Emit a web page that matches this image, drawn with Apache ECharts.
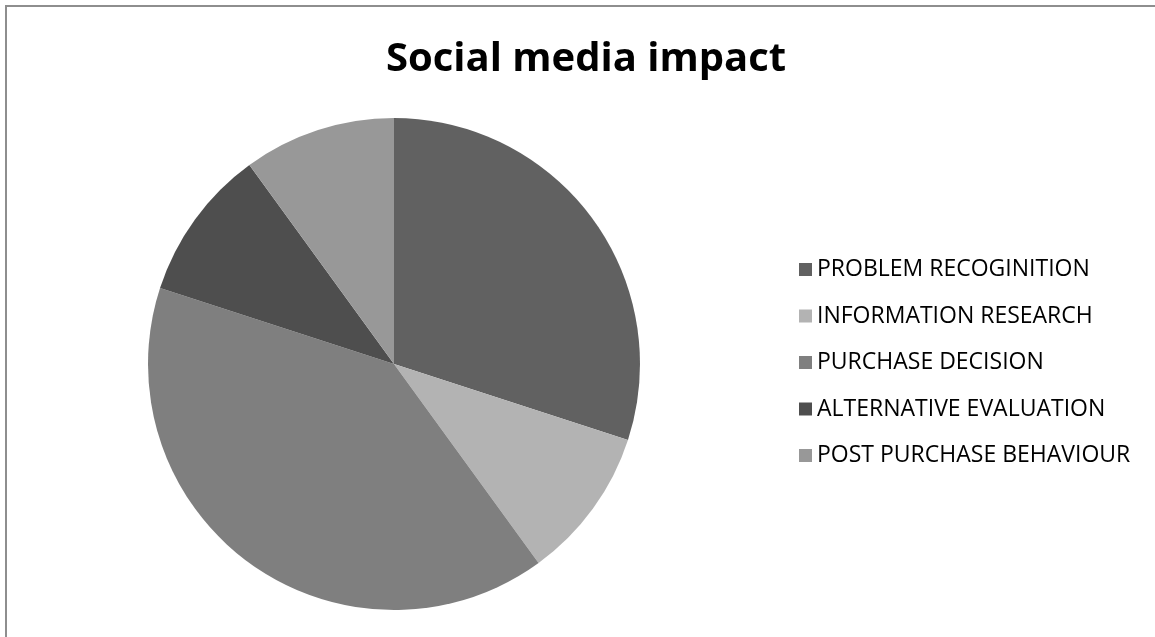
<!DOCTYPE html>
<html>
<head>
<meta charset="utf-8">
<script src="https://cdn.jsdelivr.net/npm/echarts@6/dist/echarts.min.js"></script>
<style>
  html, body { margin: 0; padding: 0; background: #fff; overflow: hidden; }
  #frame { position: absolute; left: 5px; top: 5px; width: 1170px; height: 660px; border: 2px solid #8e8e8e; box-sizing: border-box; }
  #chart { position: absolute; left: 0; top: 0; width: 1155px; height: 637px; }
</style>
</head>
<body>
<div id="frame"></div>
<div id="chart"></div>
<script>
// stages of the buying process and their share (%)
var stages = ['PROBLEM RECOGINITION', 'INFORMATION RESEARCH', 'PURCHASE DECISION', 'ALTERNATIVE EVALUATION', 'POST PURCHASE BEHAVIOUR']
var shares = [30, 10, 40, 10, 10]
var greys = ['#616161', '#b3b3b3', '#7f7f7f', '#4e4e4e', '#989898']

var myChart = echarts.init(document.getElementById('chart'))

var pieData = []
for (var i = 0; i < stages.length; i++) {
    pieData.push({ name: stages[i], value: shares[i] })
}

var option = {
    animation: false,
    color: greys,
    title: {
        text: 'Social media impact',
        left: 581,
        textAlign: 'center',
        top: 35,
        textStyle: {
            fontFamily: 'Open Sans',
            fontWeight: 'bold',
            fontSize: 40,
            color: '#000'
        }
    },
    legend: {
        orient: 'vertical',
        left: 794,
        top: 253,
        icon: 'rect',
        itemWidth: 13,
        itemHeight: 13,
        itemGap: 23.5,
        textStyle: {
            fontFamily: 'Open Sans',
            fontSize: 23,
            lineHeight: 23,
            color: '#000'
        },
        data: stages
    },
    series: [{
        type: 'pie',
        center: [394, 364],
        radius: 246,
        startAngle: 90,
        clockwise: true,
        label: { show: false },
        labelLine: { show: false },
        itemStyle: { borderWidth: 0 },
        emphasis: { disabled: true },
        data: pieData
    }]
}

myChart.setOption(option)
</script>
</body>
</html>
